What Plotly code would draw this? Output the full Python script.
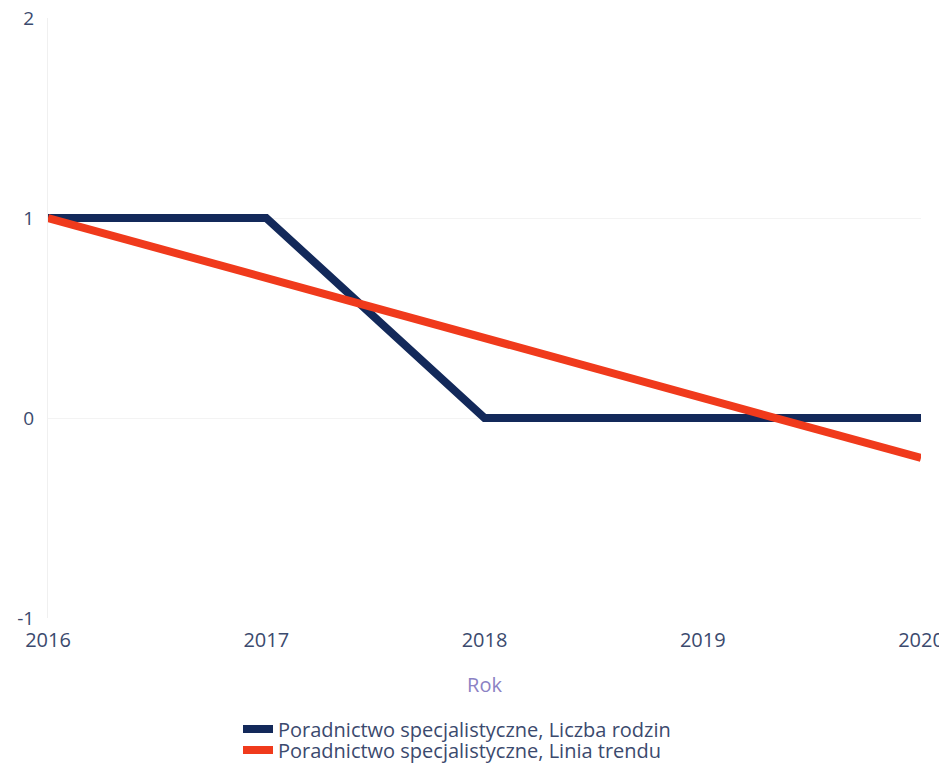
import plotly.graph_objects as go

years = [2016, 2017, 2018, 2019, 2020]
liczba_rodzin = [1, 1, 0, 0, 0]
linia_trendu = [1.0, 0.7, 0.4, 0.1, -0.2]
y_ticks = [-1, 0, 1, 2]
names = ["Poradnictwo specjalistyczne, Liczba rodzin",
         "Poradnictwo specjalistyczne, Linia trendu"]

font_family = "Open Sans, Noto Sans, sans-serif"
tick_color = "#3b4a6e"

W, H = 939, 763

fig = go.Figure()
fig.add_trace(go.Scatter(x=years, y=liczba_rodzin, mode="lines", name=names[0],
                         line=dict(color="#13295a", width=8), legend="legend"))
fig.add_trace(go.Scatter(x=years, y=linia_trendu, mode="lines", name=names[1],
                         line=dict(color="#f03a1c", width=8), legend="legend2"))

leg_common = dict(orientation="v", xref="container", yref="container",
                  xanchor="left", yanchor="middle",
                  font=dict(size=20, color=tick_color), itemwidth=30,
                  bgcolor="rgba(0,0,0,0)")

fig.update_layout(
    width=W, height=H,
    margin=dict(l=40, r=26, t=10, b=153, autoexpand=False),
    paper_bgcolor="white", plot_bgcolor="white",
    font=dict(family=font_family, color=tick_color, size=19),
    showlegend=True,
    legend=dict(x=230 / W, y=1 - 721 / H, **leg_common),
    legend2=dict(x=230 / W, y=1 - 742 / H, **leg_common),
    xaxis=dict(range=[2016, 2020], tickvals=years, ticktext=[str(y) for y in years],
               showgrid=False, zeroline=False, showline=False, automargin=False,
               ticklabeloverflow="allow",
               tickfont=dict(size=20, color=tick_color), ticks="", ticklabelstandoff=8,
               title=dict(text="Rok", font=dict(size=20, color="#8b82c4"), standoff=25)),
    yaxis=dict(range=[-1, 2], tickvals=y_ticks, ticktext=[str(v) for v in y_ticks],
               showgrid=True, gridcolor="#f3f3f3", gridwidth=1, zeroline=False,
               showline=True, linecolor="#f0f0f0", automargin=False,
               ticklabeloverflow="allow",
               tickfont=dict(size=19, color=tick_color), ticks="", ticklabelstandoff=9),
)

fig.write_html("out.html")
